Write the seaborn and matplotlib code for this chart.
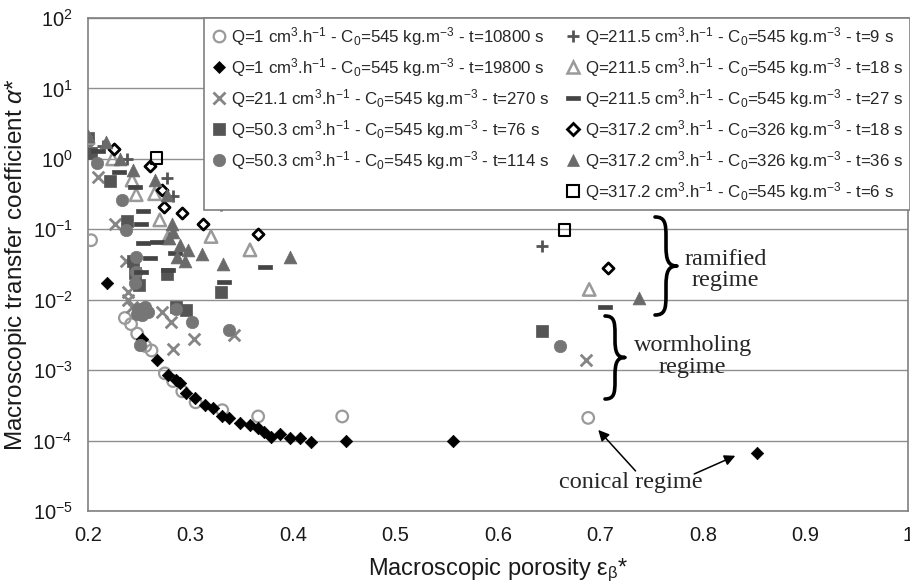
import numpy as np
import pandas as pd
import matplotlib
matplotlib.use("Agg")
import matplotlib.pyplot as plt
import seaborn as sns
from matplotlib.path import Path
from matplotlib.patches import PathPatch
from matplotlib.lines import Line2D
from matplotlib.ticker import FuncFormatter, NullLocator, FixedLocator

sns.set_style("white")
plt.rcParams['font.family'] = ['Liberation Sans', 'DejaVu Sans']
plt.rcParams['mathtext.fontset'] = 'custom'
plt.rcParams['mathtext.rm'] = 'Liberation Sans'
plt.rcParams['mathtext.it'] = 'Liberation Sans:italic'
plt.rcParams['mathtext.bf'] = 'Liberation Sans:bold'

# ---------------- data ----------------
labels = [
    "Q=1 cm$^{3}$.h$^{-1}$ - C$_{0}$=545 kg.m$^{-3}$ - t=10800 s",
    "Q=1 cm$^{3}$.h$^{-1}$ - C$_{0}$=545 kg.m$^{-3}$ - t=19800 s",
    "Q=21.1 cm$^{3}$.h$^{-1}$ - C$_{0}$=545 kg.m$^{-3}$ - t=270 s",
    "Q=50.3 cm$^{3}$.h$^{-1}$ - C$_{0}$=545 kg.m$^{-3}$ - t=76 s",
    "Q=50.3 cm$^{3}$.h$^{-1}$ - C$_{0}$=545 kg.m$^{-3}$ - t=114 s",
    "Q=211.5 cm$^{3}$.h$^{-1}$ - C$_{0}$=545 kg.m$^{-3}$ - t=9 s",
    "Q=211.5 cm$^{3}$.h$^{-1}$ - C$_{0}$=545 kg.m$^{-3}$ - t=18 s",
    "Q=211.5 cm$^{3}$.h$^{-1}$ - C$_{0}$=545 kg.m$^{-3}$ - t=27 s",
    "Q=317.2 cm$^{3}$.h$^{-1}$ - C$_{0}$=326 kg.m$^{-3}$ - t=18 s",
    "Q=317.2 cm$^{3}$.h$^{-1}$ - C$_{0}$=326 kg.m$^{-3}$ - t=36 s",
    "Q=317.2 cm$^{3}$.h$^{-1}$ - C$_{0}$=545 kg.m$^{-3}$ - t=6 s",
]

x_q1_t10800 = [0.203, 0.236, 0.242, 0.248, 0.256, 0.262, 0.275, 0.283, 0.292, 0.305, 0.331, 0.366, 0.448, 0.688]
y_q1_t10800 = [0.07, 0.0055, 0.0045, 0.0033, 0.0022, 0.0019, 0.0009, 0.0007, 0.0005, 0.00035, 0.00027, 0.00022, 0.00022, 0.00021]

x_q1_t19800 = [0.219, 0.253, 0.267, 0.278, 0.286, 0.29, 0.296, 0.304, 0.314, 0.322, 0.331, 0.338, 0.348,
               0.358, 0.366, 0.372, 0.379, 0.387, 0.397, 0.407, 0.418, 0.452, 0.556, 0.853]
y_q1_t19800 = [0.017, 0.0028, 0.0014, 0.00085, 0.00072, 0.00066, 0.00047, 0.0004, 0.00032, 0.00029, 0.00022,
               0.00021, 0.00018, 0.000166, 0.00015, 0.000132, 0.000112, 0.000126, 0.00011, 0.00011, 0.000095,
               0.0001, 0.0001, 0.000066]

x_q21_t270 = [0.21, 0.226, 0.237, 0.239, 0.239, 0.243, 0.272, 0.281, 0.283, 0.303, 0.342, 0.686]
y_q21_t270 = [0.56, 0.12, 0.036, 0.013, 0.01, 0.008, 0.0068, 0.0049, 0.002, 0.0028, 0.0032, 0.0014]

x_q50_t76 = [0.2, 0.203, 0.221, 0.238, 0.244, 0.246, 0.25, 0.277, 0.286, 0.296, 0.33, 0.643]
y_q50_t76 = [2.0, 1.2, 0.48, 0.13, 0.035, 0.024, 0.016, 0.023, 0.008, 0.0071, 0.013, 0.0036]

x_q50_t114 = [0.2, 0.2085, 0.233, 0.237, 0.247, 0.247, 0.246, 0.249, 0.256, 0.259, 0.253, 0.248, 0.251,
              0.286, 0.301, 0.338, 0.66]
y_q50_t114 = [1.8, 0.87, 0.26, 0.098, 0.04, 0.025, 0.017, 0.0075, 0.0079, 0.0067, 0.006, 0.0063, 0.0023,
              0.0075, 0.0049, 0.0037, 0.0022]

x_q211_t9 = [0.2, 0.215, 0.238, 0.277, 0.283, 0.33, 0.643]
y_q211_t9 = [2.0, 1.5, 1.0, 0.54, 0.3, 0.22, 0.057]

x_q211_t18 = [0.2, 0.224, 0.243, 0.247, 0.265, 0.27, 0.278, 0.32, 0.358, 0.689]
y_q211_t18 = [2.0, 1.0, 0.5, 0.31, 0.32, 0.136, 0.076, 0.079, 0.051, 0.014]

x_q211_t27 = [0.21, 0.23, 0.246, 0.252, 0.254, 0.254, 0.267, 0.26, 0.252, 0.285, 0.278, 0.333, 0.373, 0.704]
y_q211_t27 = [1.3, 0.65, 0.4, 0.12, 0.18, 0.063, 0.067, 0.039, 0.025, 0.046, 0.026, 0.018, 0.029, 0.008]

x_q317_c326_t18 = [0.2256, 0.26, 0.272, 0.274, 0.292, 0.312, 0.366, 0.707]
y_q317_c326_t18 = [1.39, 0.78, 0.36, 0.21, 0.17, 0.12, 0.085, 0.028]

x_q317_c326_t36 = [0.2, 0.218, 0.231, 0.244, 0.265, 0.277, 0.279, 0.282, 0.283, 0.287, 0.29, 0.295, 0.298,
                   0.311, 0.332, 0.397, 0.738]
y_q317_c326_t36 = [2.1, 1.76, 1.0, 0.7, 0.5, 0.31, 0.075, 0.12, 0.093, 0.04, 0.06, 0.036, 0.051,
                   0.044, 0.032, 0.041, 0.0105]

x_q317_c545_t6 = [0.267, 0.665]
y_q317_c545_t6 = [1.02, 0.098]

xs_all = [x_q1_t10800, x_q1_t19800, x_q21_t270, x_q50_t76, x_q50_t114, x_q211_t9, x_q211_t18,
          x_q211_t27, x_q317_c326_t18, x_q317_c326_t36, x_q317_c545_t6]
ys_all = [y_q1_t10800, y_q1_t19800, y_q21_t270, y_q50_t76, y_q50_t114, y_q211_t9, y_q211_t18,
          y_q211_t27, y_q317_c326_t18, y_q317_c326_t36, y_q317_c545_t6]

x_ticks = [0.2, 0.3, 0.4, 0.5, 0.6, 0.7, 0.8, 0.9, 1.0]
y_ticks = [1e-5, 1e-4, 1e-3, 1e-2, 1e-1, 1e0, 1e1, 1e2]

# ---------------- styles ----------------
dash = Path([(-1, -0.3), (1, -0.3), (1, 0.3), (-1, 0.3), (-1, -0.3)],
            [Path.MOVETO, Path.LINETO, Path.LINETO, Path.LINETO, Path.CLOSEPOLY])
styles = [
    dict(marker='o', s=70, fc='none', ec='#9a9a9a', lw=1.6),
    dict(marker='D', s=40, fc='black', ec='black', lw=0.5),
    dict(marker='x', s=70, fc='#858585', ec='#858585', lw=2.0),
    dict(marker='s', s=70, fc='#555555', ec='#555555', lw=0.5),
    dict(marker='o', s=80, fc='#767676', ec='#767676', lw=0.5),
    dict(marker='+', s=80, fc='#555555', ec='#555555', lw=2.0),
    dict(marker='^', s=80, fc='none', ec='#9a9a9a', lw=1.8),
    dict(marker=dash, s=110, fc='#444444', ec='#444444', lw=0.5),
    dict(marker='D', s=32, fc='white', ec='black', lw=2.0),
    dict(marker='^', s=85, fc='#6a6a6a', ec='#6a6a6a', lw=0.5),
    dict(marker='s', s=70, fc='none', ec='black', lw=1.5),
]

fig = plt.figure(figsize=(9.1, 5.85), dpi=100)
ax = fig.add_axes([88 / 910, 1 - 511 / 585, 820 / 910, 493 / 585])

for xv, yv, st in zip(xs_all, ys_all, styles):
    df = pd.DataFrame({'x': xv, 'y': yv})
    sns.scatterplot(data=df, x='x', y='y', ax=ax, marker=st['marker'], s=st['s'],
                    facecolor=st['fc'], edgecolor=st['ec'], linewidth=st['lw'],
                    legend=False, zorder=3)

ax.set_yscale('log')
ax.set_xlim(0.2, 1.0)
ax.set_ylim(1e-5, 1e2)
ax.xaxis.set_major_locator(FixedLocator(x_ticks))
ax.xaxis.set_major_formatter(FuncFormatter(lambda v, p: f"{v:g}"))
ax.yaxis.set_major_locator(FixedLocator(y_ticks))
ax.yaxis.set_minor_locator(NullLocator())
ax.yaxis.set_major_formatter(FuncFormatter(lambda v, p: "$10^{%d}$" % int(round(np.log10(v)))))
ax.yaxis.grid(True, color='#8f8f8f', lw=1.0)
ax.xaxis.grid(False)
ax.set_axisbelow(True)
for sp in ax.spines.values():
    sp.set_color('#808080')
    sp.set_linewidth(1.2)
ax.tick_params(axis='both', which='major', direction='out', length=5, width=1,
               color='#808080', labelsize=14.5, labelcolor='#1a1a1a', pad=6)

ax.set_xlabel("Macroscopic porosity ε$_{\\mathrm{β}}$*", fontsize=17, color='#1a1a1a', labelpad=8)
ax.set_ylabel("Macroscopic transfer coefficient $α$*", fontsize=17.5, color='#1a1a1a')
ax.yaxis.set_label_coords(-0.072, 0.5)

# ---------------- legend ----------------
handles = []
for st in styles:
    handles.append(Line2D([], [], ls='none', marker=st['marker'], markersize=np.sqrt(st['s']),
                          markerfacecolor=st['fc'], markeredgecolor=st['ec'], markeredgewidth=st['lw']))
blank = Line2D([], [], ls='none', marker=None)
hs = handles[:5] + [blank] + handles[5:]
ls = labels[:5] + [''] + labels[5:]
leg = ax.legend(hs, ls, ncol=2, loc='upper left', bbox_to_anchor=(0.1415, 1.0), borderaxespad=0,
                fontsize=12.2, frameon=True, fancybox=False, framealpha=1, edgecolor='#808080',
                handlelength=1.0, handletextpad=0.2, columnspacing=0.9, labelspacing=0.48,
                borderpad=0.4)
leg.get_frame().set_linewidth(1.2)
leg.set_zorder(10)

# ---------------- annotations ----------------
serif = ['Liberation Serif', 'DejaVu Serif']
ax.text(0.822, 10 ** -1.577, "ramified\nregime", ha='center', va='center', family=serif,
        fontsize=17.5, linespacing=1.05, zorder=5)
ax.text(0.790, 10 ** -2.81, "wormholing\nregime", ha='center', va='center', family=serif,
        fontsize=17.5, linespacing=1.05, zorder=5)
ax.text(0.730, 10 ** -4.6, "conical regime", ha='center', va='center', family=serif,
        fontsize=17.5, zorder=5)
ax.annotate('', xy=(0.696, 10 ** -3.82), xytext=(0.736, 10 ** -4.46),
            arrowprops=dict(arrowstyle='-|>', color='black', lw=1.1, mutation_scale=16))
ax.annotate('', xy=(0.834, 10 ** -4.2), xytext=(0.789, 10 ** -4.49),
            arrowprops=dict(arrowstyle='-|>', color='black', lw=1.1, mutation_scale=16))


def brace(x0, ytop, ybot, w):
    ymid = (ytop + ybot) / 2
    xs = x0 + w * 0.5
    xt = x0 + w
    q = w * 0.9
    pts = [(x0, ytop),
           (x0 + w * 0.45, ytop), (xs, ytop + q * 0.3), (xs, ytop + q),
           (xs, ymid - q),
           (xs, ymid - q * 0.3), (xs + w * 0.1, ymid), (xt, ymid),
           (xs + w * 0.1, ymid), (xs, ymid + q * 0.3), (xs, ymid + q),
           (xs, ybot - q),
           (xs, ybot - q * 0.3), (x0 + w * 0.45, ybot), (x0, ybot)]
    codes = [Path.MOVETO, Path.CURVE4, Path.CURVE4, Path.CURVE4, Path.LINETO,
             Path.CURVE4, Path.CURVE4, Path.CURVE4, Path.CURVE4, Path.CURVE4, Path.CURVE4,
             Path.LINETO, Path.CURVE4, Path.CURVE4, Path.CURVE4]
    verts = [(px / 910, 1 - py / 585) for px, py in pts]
    patch = PathPatch(Path(verts, codes), transform=fig.transFigure, fc='none', ec='black',
                      lw=2.6, capstyle='round', joinstyle='round', zorder=6)
    fig.add_artist(patch)


brace(655, 217, 315, 22)
brace(605, 316, 399, 20)

fig.savefig('out.png', dpi=100)
